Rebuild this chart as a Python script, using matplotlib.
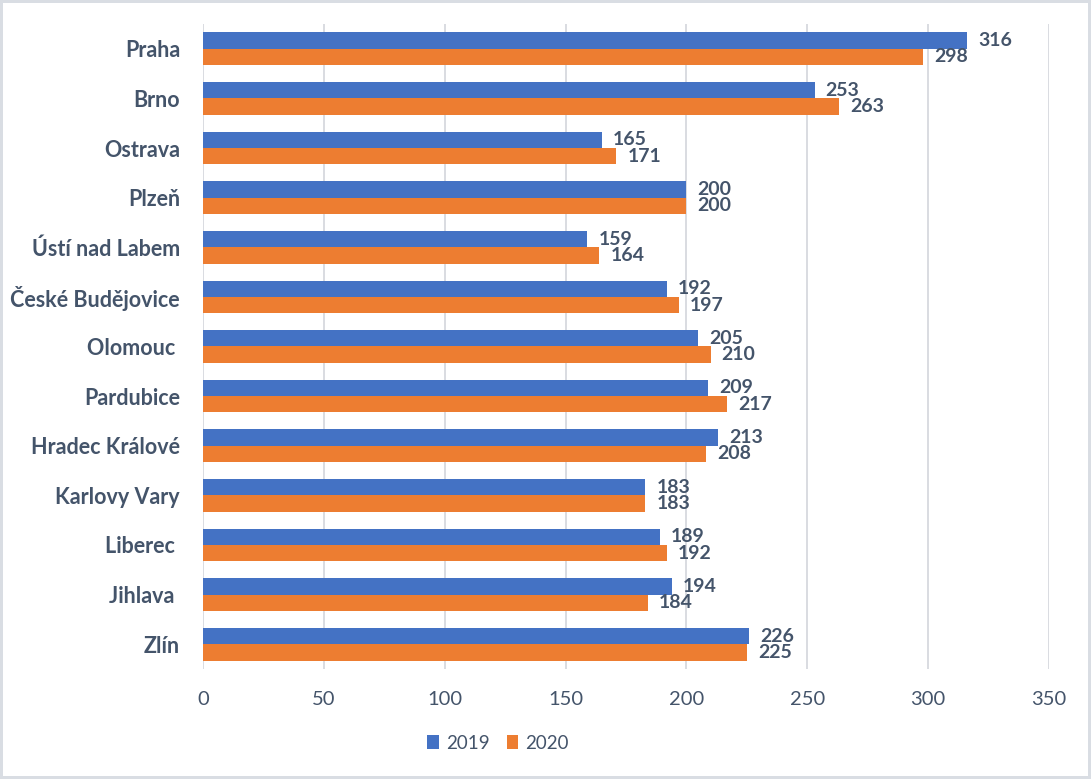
import matplotlib
matplotlib.use("Agg")
import matplotlib.pyplot as plt
import numpy as np

cities = ["Praha", "Brno", "Ostrava", "Plzeň", "Ústí nad Labem", "České Budějovice",
          "Olomouc ", "Pardubice", "Hradec Králové", "Karlovy Vary", "Liberec ",
          "Jihlava ", "Zlín"]
v2019 = [316, 253, 165, 200, 159, 192, 205, 209, 213, 183, 189, 194, 226]
v2020 = [298, 263, 171, 200, 164, 197, 210, 217, 208, 183, 192, 184, 225]
series_names = ["2019", "2020"]
xticks = [0, 50, 100, 150, 200, 250, 300, 350]

blue = "#4472C4"
orange = "#ED7D31"
txt = "#44546A"
font = ["Lato", "DejaVu Sans"]

fig = plt.figure(figsize=(10.91, 7.79), dpi=100)
fig.patch.set_facecolor("white")
fig.patch.set_edgecolor("#D9DDE3")
fig.patch.set_linewidth(4)
ax = fig.add_axes([0.186, 0.1412, 0.7755, 0.828])

y = np.arange(len(cities))
h = 0.33
b1 = ax.barh(y - h / 2, v2019, height=h, color=blue, label=series_names[0], zorder=3)
b2 = ax.barh(y + h / 2, v2020, height=h, color=orange, label=series_names[1], zorder=3)

for bars, vals in ((b1, v2019), (b2, v2020)):
    for bar, v in zip(bars, vals):
        ax.annotate(str(v), (v, bar.get_y() + bar.get_height() / 2),
                    xytext=(8, 0), textcoords="offset points", va="center", ha="left",
                    fontsize=14, fontweight="bold", color=txt, family=font)

ax.set_ylim(len(cities) - 0.5, -0.5)
ax.set_xlim(0, 350)
ax.set_xticks(xticks)
ax.set_xticklabels([str(t) for t in xticks], fontsize=14.5, color=txt, family=font)
ax.set_yticks(y)
ax.set_yticklabels(cities, fontsize=15.5, fontweight="bold", color=txt, family=font)
ax.tick_params(axis="both", length=0)
ax.tick_params(axis="x", pad=16)
ax.tick_params(axis="y", pad=16.5)
ax.grid(axis="x", color="#D9DCE1", linewidth=1.4, zorder=0)
for s in ax.spines.values():
    s.set_visible(False)

leg = ax.legend(loc="center", bbox_to_anchor=(0.349, -0.115), ncol=2, frameon=False,
                prop={"family": font, "size": 13.5}, handlelength=0.6, handleheight=0.75,
                columnspacing=0.9, handletextpad=0.4)
for t in leg.get_texts():
    t.set_color(txt)

fig.savefig("out.png", dpi=100, facecolor="white", edgecolor="#D9DDE3")
